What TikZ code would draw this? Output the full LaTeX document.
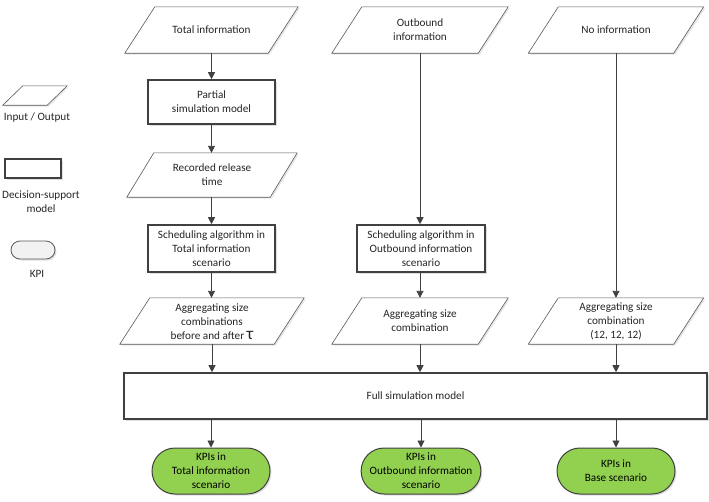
\documentclass[tikz,border=0pt]{standalone}
\usepackage{fontspec}
\setmainfont{Carlito}
\usetikzlibrary{arrows.meta,shapes.misc,shadows}
\definecolor{lineg}{HTML}{404040}
\definecolor{thing}{HTML}{595959}
\definecolor{txtg}{HTML}{262626}
\definecolor{kpig}{HTML}{92D050}
\definecolor{legg}{HTML}{F2F2F2}
\begin{document}
\begin{tikzpicture}[x=1pt,y=-1pt,
  font=\fontsize{11.2}{14}\selectfont, text=txtg,
  base/.style={inner sep=0pt, align=center, minimum height=46pt},
  io/.style={base},
  dsm/.style={base, draw=lineg, line width=1.6pt, fill=white,
     drop shadow={shadow xshift=1.5pt, shadow yshift=-1.5pt, opacity=0.25}},
  kpi/.style={base, rounded rectangle, draw=lineg, line width=1pt, fill=kpig,
     minimum width=118pt, text=black,
     drop shadow={shadow xshift=1.5pt, shadow yshift=-1.5pt, opacity=0.25}},
  iopath/.style={draw=thing, line width=0.6pt, fill=white,
     drop shadow={shadow xshift=1.5pt, shadow yshift=-1.5pt, opacity=0.2}},
  conn/.style={draw=lineg, line width=0.9pt, -{Triangle[length=7pt,width=7pt]}},
  legtxt/.style={inner sep=0pt, align=center}
]
\useasboundingbox (0,0) rectangle (709,501);

% Inputs / outputs (text nodes; parallelogram outlines drawn below)
\node[io, minimum width=173pt] (ti) at (211.5,30) {};
\node[io, minimum width=176pt] (oi) at (420,30) {};
\node[io, minimum width=175pt] (ni) at (616,30) {};
\node[io, minimum width=170pt, minimum height=44pt] (rr) at (212,175) {};
\node[io, minimum width=184pt] (ag1) at (212,321) {};
\node[io, minimum width=176pt] (ag2) at (420,321) {};
\node[io, minimum width=175pt] (ag3) at (616,321) {};
\node[io, minimum width=64pt, minimum height=19pt] (lio) at (35,95.5) {};

\foreach \n/\s in {ti/30,oi/30,ni/30,rr/27,ag1/30,ag2/30,ag3/30,lio/20}
  \path[iopath] ([xshift=\s pt]\n.north west) -- (\n.north east)
     -- ([xshift=-\s pt]\n.south east) -- (\n.south west) -- cycle;

\node[legtxt] at (ti) {Total information};
\node[legtxt] at (oi) {Outbound\\information};
\node[legtxt] at (ni) {No information};
\node[legtxt] at (rr) {Recorded release\\time};
\node[legtxt] at ([yshift=-1pt]ag1.center) {Aggregating size\\combinations\\before and after {\LARGE τ}};
\node[legtxt] at (ag2) {Aggregating size\\combination};
\node[legtxt] at (ag3) {Aggregating size\\combination\\(12, 12, 12)};

% Decision-support models
\node[dsm, minimum width=127pt, minimum height=44pt] (psm) at (211.5,102) {Partial\\simulation model};
\node[dsm, minimum width=127pt, minimum height=47pt] (sa1) at (211.5,248.5) {Scheduling algorithm in\\Total information\\scenario};
\node[dsm, minimum width=128pt, minimum height=47pt] (sa2) at (421,248.5) {Scheduling algorithm in\\Outbound information\\scenario};
\node[dsm, minimum width=583pt] (fsm) at (415.5,396) {Full simulation model};

% KPIs
\node[kpi] (k1) at (211,471) {KPIs in\\Total information\\scenario};
\node[kpi] (k2) at (421,471) {KPIs in\\Outbound information\\scenario};
\node[kpi] (k3) at (616,471) {KPIs in\\Base scenario};

% Legend
\node[legtxt] (liot) at (37,118) {Input / Output};
\node[dsm, minimum width=56pt, minimum height=19pt] (lrect) at (33,168.5) {};
\node[legtxt] (lrectt) at (41,202) {Decision-support\\model};
\node[base, rounded rectangle, draw=thing, line width=0.8pt, fill=legg,
  minimum width=44pt, minimum height=18pt,
  drop shadow={shadow xshift=1.5pt, shadow yshift=-1.5pt, opacity=0.25}] (lkpi) at (33,250) {};
\node[legtxt] (lkpit) at (37,274) {KPI};

% Connectors
\draw[conn] (ti.south -| psm.north) -- (psm.north);
\draw[conn] (psm) -- (rr.north -| psm.south);
\draw[conn] (rr.south -| sa1.north) -- (sa1.north);
\draw[conn] (sa1) -- (ag1.north -| sa1.south);
\draw[conn] (ag1.south) -- (fsm.north -| ag1.south);
\draw[conn] (fsm.south -| k1.north) -- (k1.north);

\draw[conn] (oi.south) -- (sa2.north -| oi.south);
\draw[conn] (sa2.south -| ag2.north) -- (ag2.north);
\draw[conn] (ag2.south) -- (fsm.north -| ag2.south);
\draw[conn] (fsm.south -| k2.north) -- (k2.north);

\draw[conn] (ni.south) -- (ag3.north);
\draw[conn] (ag3.south) -- (fsm.north -| ag3.south);
\draw[conn] (fsm.south -| k3.north) -- (k3.north);
\end{tikzpicture}
\end{document}
